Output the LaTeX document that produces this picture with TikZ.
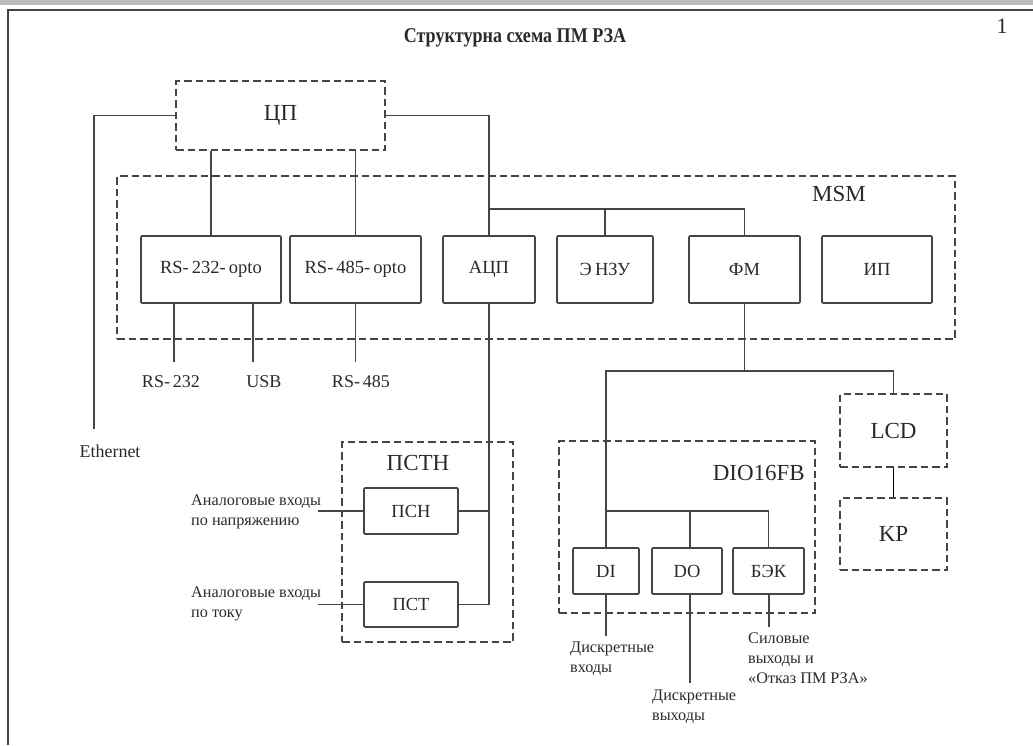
\documentclass[tikz,border=0pt]{standalone}
\usepackage{fontspec}
\setmainfont{Liberation Serif}
\definecolor{lc}{HTML}{454545}
\definecolor{tc}{HTML}{2A2A2A}
\definecolor{band}{HTML}{BDBDBD}
\definecolor{thin}{HTML}{8A8A8A}
\begin{document}
\begin{tikzpicture}[x=1pt,y=-1pt,
  ln/.style={draw=lc, line width=1.6pt},
  dbox/.style={draw=lc, line width=1.9pt, dash pattern=on 7.5pt off 4pt, inner sep=0pt},
  sbox/.style={draw=lc, line width=1.6pt, rounded corners=1pt, inner sep=0pt,
    text=tc, font=\fontsize{18.5}{18.5}\selectfont},
  big/.style={text=tc, inner sep=0pt, font=\fontsize{23}{23}\selectfont},
  mid/.style={text=tc, inner sep=0pt, font=\fontsize{18}{18}\selectfont},
  lbl/.style={text=tc, inner sep=0pt, font=\fontsize{16.2}{20}\selectfont, align=left},
]
\useasboundingbox (0,0) rectangle (1033,745);
% page frame
\fill[band] (0,0) rectangle (1033,5);
\draw[lc, line width=2pt] (8,745) -- (8,10) -- (1033,10);
\node[inner sep=0pt, text=tc, font=\fontsize{21}{21}\selectfont\bfseries] (title) at (515,38)
  {\scalebox{0.86}[1]{Структурна схема ПМ РЗА}};
\node[inner sep=0pt, text=tc, font=\fontsize{22}{22}\selectfont] (pg) at (1002,26) {1};

% central processor
\node[dbox, minimum width=209pt, minimum height=69pt, big] (cp) at (280.5,115.5) {ЦП};

% MSM module
\node[dbox, minimum width=838pt, minimum height=163pt] (msm) at (536,257.5) {};
\node[big] (msml) at (839,194) {MSM};
\node[sbox, minimum width=140pt, minimum height=67pt] (rs232) at (211,269.5) {RS-\,232-\,opto};
\node[sbox, minimum width=131pt, minimum height=67pt] (rs485) at (355.5,269.5) {RS-\,485-\,opto};
\node[sbox, minimum width=92pt, minimum height=67pt] (adc) at (489,269.5) {АЦП};
\node[sbox, minimum width=96pt, minimum height=67pt] (enzu) at (605,269.5) {Э\,НЗУ};
\node[sbox, minimum width=111pt, minimum height=67pt] (fm) at (744.5,269.5) {ФМ};
\node[sbox, minimum width=110pt, minimum height=67pt] (ip) at (877,269.5) {ИП};

% serial ports
\coordinate (o232) at (174,362);
\coordinate (ousb) at (253,362);
\coordinate (o485) at (355.5,362);
\node[mid] (l232) at (171,382) {RS-\,232};
\node[mid] (lusb) at (264,382) {USB};
\node[mid] (l485) at (361,382) {RS-\,485};

% Ethernet
\coordinate (ethend) at (94,429);
\node[mid] (eth) at (110,451) {Ethernet};

% ПСТН module
\node[dbox, minimum width=171pt, minimum height=200pt] (pstn) at (427.5,542) {};
\node[big] (pstnl) at (418,463) {ПСТН};
\node[sbox, minimum width=94pt, minimum height=46pt] (psn) at (411,511) {ПСН};
\node[sbox, minimum width=94pt, minimum height=45pt] (pst) at (411,604.5) {ПСТ};
\coordinate (inu) at (318,511);
\coordinate (ini) at (318,604.5);
\node[lbl, anchor=west] (lu) at (191,512) {Аналоговые входы\\по напряжению};
\node[lbl, anchor=west] (li) at (191,604) {Аналоговые входы\\по току};

% DIO16FB module
\node[dbox, minimum width=256pt, minimum height=172pt] (dio) at (687,527) {};
\node[big, anchor=east] (diol) at (805,473) {DIO16FB};
\node[sbox, minimum width=66pt, minimum height=46pt] (di) at (606,571) {DI};
\node[sbox, minimum width=70pt, minimum height=46pt] (do) at (687,571) {DO};
\node[sbox, minimum width=71pt, minimum height=46pt] (bek) at (768.5,571) {БЭК};
\coordinate (odi) at (606,636);
\coordinate (odo) at (690,683);
\coordinate (obek) at (769,627);
\node[lbl, anchor=west] (ldi) at (570,659) {Дискретные\\входы};
\node[lbl, anchor=west] (ldo) at (652,706.5) {Дискретные\\выходы};
\node[lbl, anchor=west] (lbek) at (748,658.5) {Силовые\\выходы и\\«Отказ ПМ РЗА»};

% display and keyboard
\node[dbox, minimum width=107pt, minimum height=73pt, big] (lcd) at (893.5,430.5) {LCD};
\node[dbox, minimum width=107pt, minimum height=72pt, big] (kp) at (893.5,534) {KP};

% connections
\draw[ln] (cp.west) -| (ethend);
\draw[ln] (cp.east) -| (adc.north);
\draw[ln] (rs232.north) -- (rs232.north |- cp.south);
\draw[ln] (rs485.north) -- (rs485.north |- cp.south);
\draw[ln] (adc.north |- 0,209) -| (fm.north);
\draw[ln] (enzu.north) -- (enzu.north |- 0,209);
\draw[ln] (o232 |- rs232.south) -- (o232);
\draw[ln] (ousb |- rs232.south) -- (ousb);
\draw[ln] (rs485.south) -- (o485);
\draw[ln] (adc.south) |- (psn.east);
\draw[ln] (adc.south) |- (pst.east);
\draw[ln] (inu) -- (psn.west);
\draw[ln] (ini) -- (pst.west);
\coordinate (fmj) at (fm.south |- 0,371);
\draw[ln] (fm.south) -- (fmj);
\draw[ln] (di.north) -- (di.north |- fmj) -- (lcd.north |- fmj) -- (lcd.north);
\draw[ln] (di.north |- 0,511) -| (bek.north);
\draw[ln] (odo |- do.north) -- (odo |- 0,511);
\draw[ln] (di.south) -- (odi);
\draw[ln] (odo |- do.south) -- (odo);
\draw[ln] (obek |- bek.south) -- (obek);
\draw[line width=1.5pt, thin] (lcd.south) -- (kp.north);
\end{tikzpicture}
\end{document}
